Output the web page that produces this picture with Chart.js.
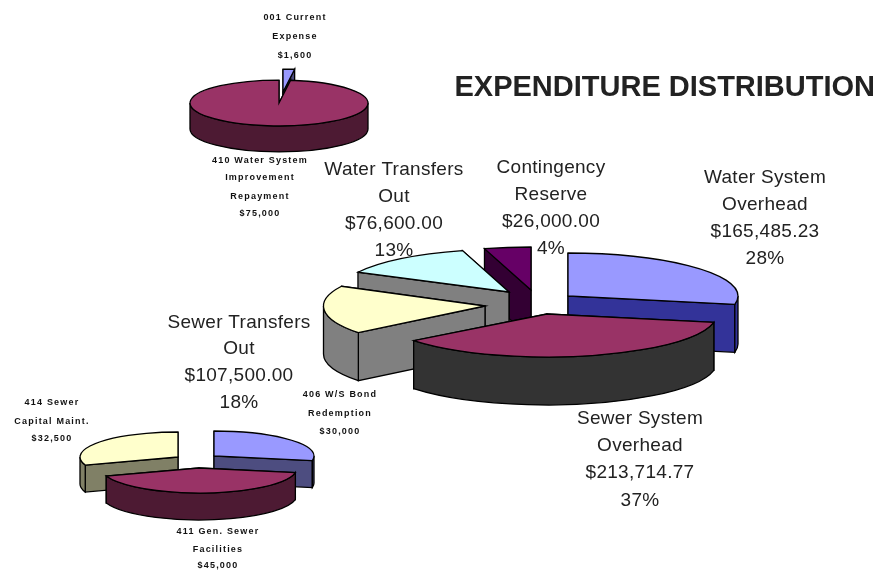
<!DOCTYPE html>
<html>
<head>
<meta charset="utf-8">
<title>Expenditure Distribution</title>
<script src="https://cdn.jsdelivr.net/npm/chart.js@4/dist/chart.umd.js"></script>
<style>
  html, body { margin: 0; background: #fff; }
  canvas { position: absolute; left: 0; top: 0; filter: blur(0.35px); }
</style>
</head>
<body>
<canvas id="pie-top" width="877" height="573"></canvas>
<canvas id="pie-bottom" width="877" height="573"></canvas>
<canvas id="pie-main" width="877" height="573"></canvas>
<script>
/* values */
const mainCategories = ['Water System Overhead', 'Sewer System Overhead', 'Sewer Transfers Out', 'Water Transfers Out', 'Contingency Reserve'];
const mainValues = [165485.23, 213714.77, 107500, 76600, 26000];
const topCategories = ['001 Current Expense', '410 Water System Improvement Repayment'];
const topValues = [1600, 75000];
const bottomCategories = ['406 W/S Bond Redemption', '411 Gen. Sewer Facilities', '414 Sewer Capital Maint.'];
const bottomValues = [30000, 45000, 32500];

const TITLE = 'EXPENDITURE DISTRIBUTION';

/* label text */
const mainLabels = [
  ['Water System', 'Overhead', '$165,485.23', '28%'],
  ['Sewer System', 'Overhead', '$213,714.77', '37%'],
  ['Sewer Transfers', 'Out', '$107,500.00', '18%'],
  ['Water Transfers', 'Out', '$76,600.00', '13%'],
  ['Contingency', 'Reserve', '$26,000.00', '4%'],
];
const topLabels = [
  ['001 Current', 'Expense', '$1,600'],
  ['410 Water System', 'Improvement', 'Repayment', '$75,000'],
];
const bottomLabels = [
  ['406 W/S Bond', 'Redemption', '$30,000'],
  ['411 Gen. Sewer', 'Facilities', '$45,000'],
  ['414 Sewer', 'Capital Maint.', '$32,500'],
];

/* ── Layout and colours ──────────────────────────────────────────── */
const BIG_FONT = { font: '19px "Liberation Sans"', color: '#222', spacing: '0.3px' };
const SMALL_FONT = { font: 'bold 9px "Liberation Sans"', color: '#111', spacing: '1.2px' };

const mainStyle = {
  radius: 170, depth: 48, order: [4, 3, 2, 0, 1], font: BIG_FONT,
  tops: ['#9999ff', '#993366', '#ffffcc', '#ccffff', '#660066'],
  walls: ['#333399', '#333333', '#808080', '#808080', '#330033'],
  // apex of each slice on the page, and how wide / tall its ellipse is
  faces: [
    { x: 568, y: 296, sx: 1, sy: 0.253 },
    { x: 547, y: 314, sx: 1, sy: 0.253 },
    { x: 485, y: 306, sx: 0.95, sy: 0.253 },
    { x: 509, y: 292, sx: 1, sy: 0.253 },
    { x: 531, y: 290, sx: 1, sy: 0.253 },
  ],
  text: [
    { x: 765, y: [178, 205, 232, 259] },
    { x: 640, y: [419, 446, 473, 501] },
    { x: 239, y: [323, 349, 376, 403] },
    { x: 394, y: [170, 197, 224, 251] },
    { x: 551, y: [168, 195, 222, 249] },
  ],
};
const topStyle = {
  radius: 89, depth: 26, order: [0, 1], font: SMALL_FONT,
  tops: ['#9999ff', '#993366'],
  walls: ['#4d4d80', '#4d1a33'],
  faces: [
    { x: 283, y: 92, sx: 1, sy: 0.258 },
    { x: 279, y: 103, sx: 1, sy: 0.258 },
  ],
  text: [
    { x: 295, y: [18, 37, 56] },
    { x: 260, y: [161, 178, 197, 214] },
  ],
};
const bottomStyle = {
  radius: 100, depth: 27, order: [0, 2, 1], font: SMALL_FONT,
  tops: ['#9999ff', '#993366', '#ffffcc'],
  walls: ['#4d4d80', '#4d1a33', '#808066'],
  faces: [
    { x: 214, y: 456, sx: 1, sy: 0.25 },
    { x: 199, y: 468, sx: 0.98, sy: 0.25 },
    { x: 178, y: 457, sx: 0.98, sy: 0.25 },
  ],
  text: [
    { x: 340, y: [395, 414, 432] },
    { x: 218, y: [532, 550, 566] },
    { x: 52, y: [403, 422, 439] },
  ],
};

/* ── Fake 3D: walls by hand, top face by the arc element ─────────── */
function drawSlice(ctx, arc, face, depth, wall) {
  const rx = arc.outerRadius * face.sx;
  const ry = arc.outerRadius * face.sy;
  const { x, y } = face;
  const a0 = arc.startAngle;
  const a1 = arc.endAngle;

  ctx.lineWidth = 1.3;
  ctx.strokeStyle = '#000';
  ctx.fillStyle = wall;

  // radial walls, the one nearer the viewer last
  [a0, a1]
    .sort((p, q) => Math.sin(p) - Math.sin(q))
    .forEach(a => {
      const px = x + rx * Math.cos(a);
      const py = y + ry * Math.sin(a);
      ctx.beginPath();
      ctx.moveTo(x, y);
      ctx.lineTo(px, py);
      ctx.lineTo(px, py + depth);
      ctx.lineTo(x, y + depth);
      ctx.closePath();
      ctx.fill();
      ctx.stroke();
    });

  // outer wall, only the part facing front
  const from = Math.max(a0, 0);
  const to = Math.min(a1, Math.PI);
  if (to > from) {
    ctx.beginPath();
    ctx.ellipse(x, y, rx, ry, 0, from, to);
    ctx.ellipse(x, y + depth, rx, ry, 0, to, from, true);
    ctx.closePath();
    ctx.fill();
    ctx.stroke();
  }

  // top face
  ctx.save();
  ctx.translate(x, y);
  ctx.scale(face.sx, face.sy);
  ctx.translate(-arc.x, -arc.y);
  arc.draw(ctx);
  ctx.restore();

  ctx.beginPath();
  ctx.moveTo(x, y);
  ctx.ellipse(x, y, rx, ry, 0, a0, a1);
  ctx.closePath();
  ctx.stroke();
}

function pie3dPlugin(style, labels) {
  return {
    id: 'pie3d',
    beforeDatasetsDraw(chart) {
      const arcs = chart.getDatasetMeta(0).data;
      style.order.forEach(i => drawSlice(chart.ctx, arcs[i], style.faces[i], style.depth, style.walls[i]));
      return false;
    },
    afterDraw(chart) {
      const ctx = chart.ctx;
      ctx.save();
      ctx.font = style.font.font;
      ctx.fillStyle = style.font.color;
      ctx.letterSpacing = style.font.spacing;
      ctx.textAlign = 'center';
      ctx.textBaseline = 'middle';
      labels.forEach((lines, i) => {
        lines.forEach((line, n) => ctx.fillText(line, style.text[i].x, style.text[i].y[n]));
      });
      ctx.restore();
    },
  };
}

function renderPie(id, categories, values, style, labels, title) {
  return new Chart(document.getElementById(id), {
    type: 'pie',
    data: {
      labels: categories,
      datasets: [{
        data: values,
        backgroundColor: style.tops,
        borderWidth: 0,
        radius: style.radius,
      }],
    },
    options: {
      responsive: false,
      animation: false,
      layout: { padding: { right: 2 } },
      plugins: {
        legend: { display: false },
        tooltip: { enabled: false },
        title: title ? {
          display: true,
          text: title,
          align: 'end',
          color: '#222',
          font: { family: '"Liberation Sans"', size: 29, weight: 'bold' },
          padding: { top: 71, bottom: 0 },
        } : { display: false },
      },
    },
    plugins: [pie3dPlugin(style, labels)],
  });
}

renderPie('pie-top', topCategories, topValues, topStyle, topLabels);
renderPie('pie-bottom', bottomCategories, bottomValues, bottomStyle, bottomLabels);
renderPie('pie-main', mainCategories, mainValues, mainStyle, mainLabels, TITLE);
</script>
</body>
</html>
